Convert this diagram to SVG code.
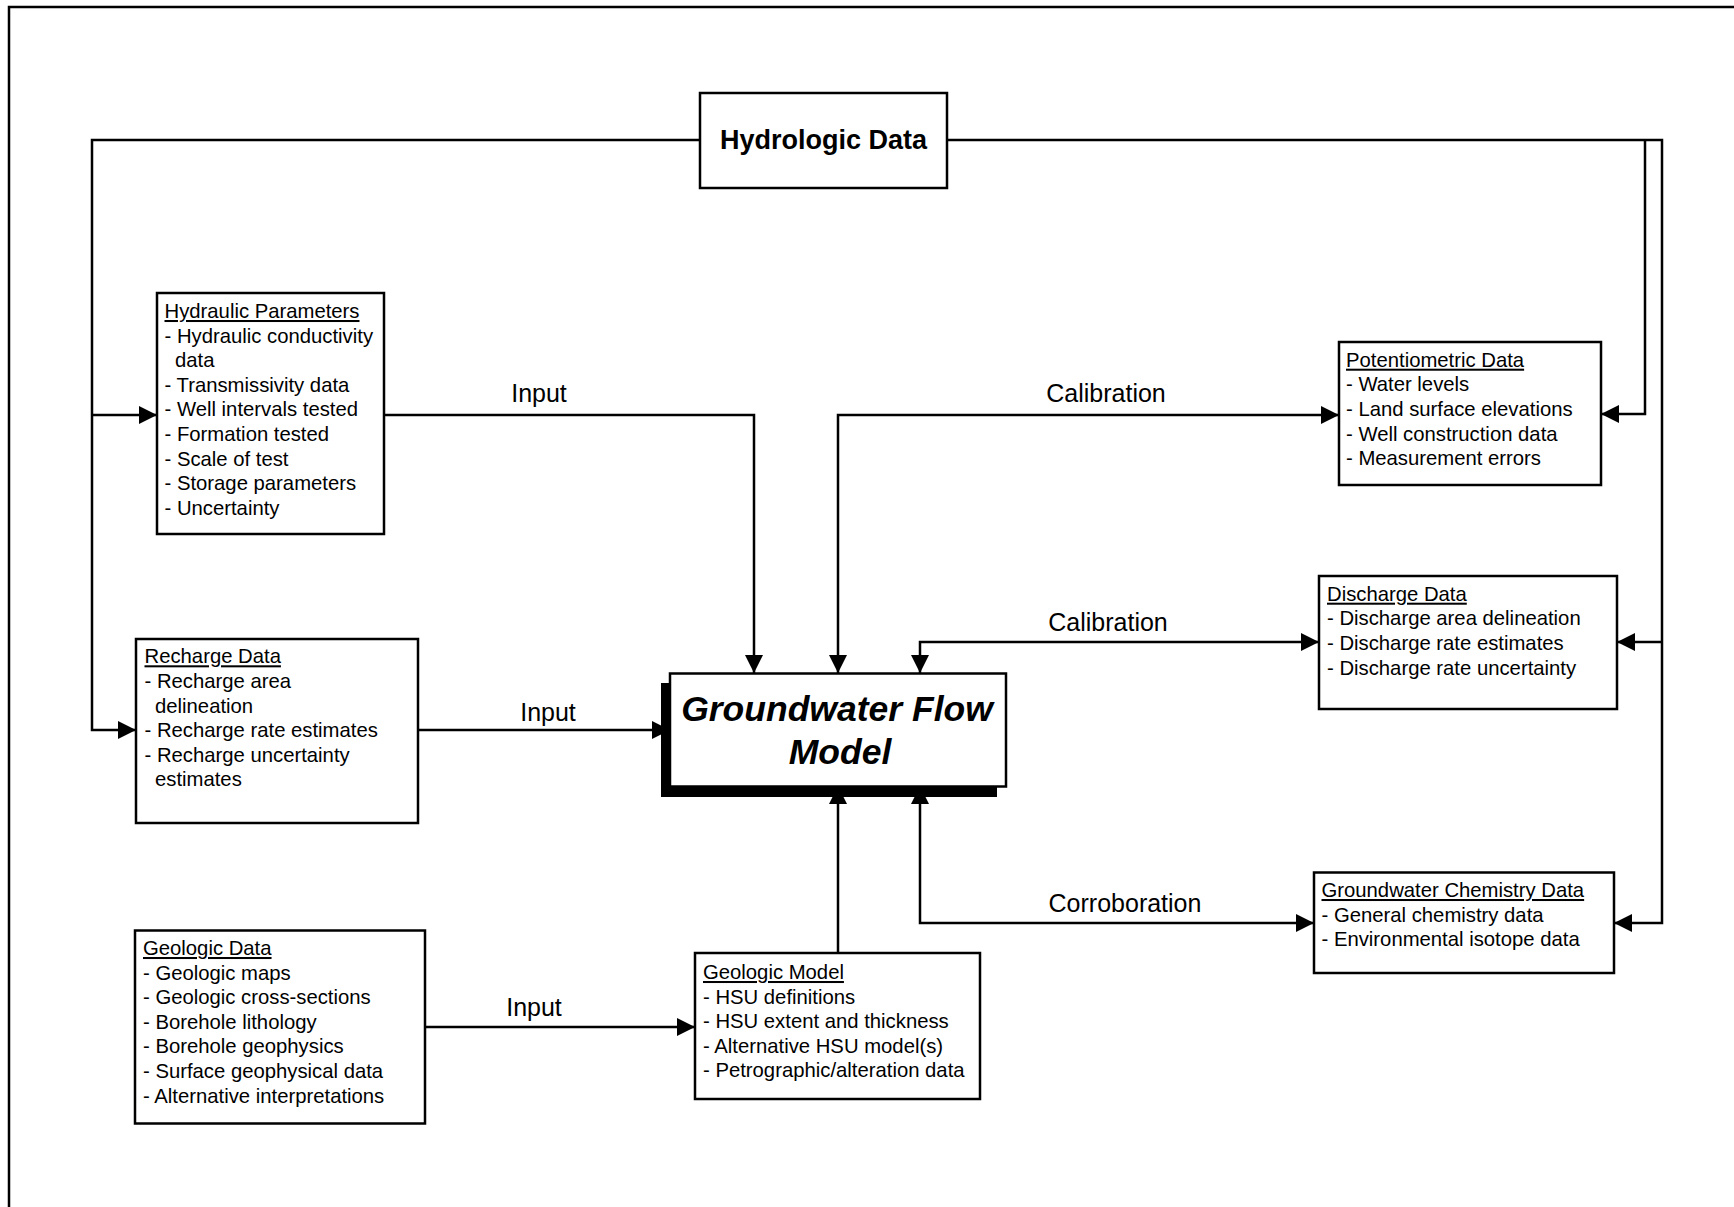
<svg xmlns="http://www.w3.org/2000/svg" width="1734" height="1207" viewBox="0 0 1734 1207">
<style>
  .box { fill: #fff; stroke: #000; stroke-width: 2.5; }
  .ln { fill: none; stroke: #000; stroke-width: 2.5; }
  .t { font-family: "Liberation Sans", Arial, sans-serif; font-size: 20.3px; fill: #000; }
  .u { text-decoration: underline; }
  .lbl { font-family: "Liberation Sans", Arial, sans-serif; font-size: 25px; fill: #000; text-anchor: middle; }
  .big { font-family: "Liberation Sans", Arial, sans-serif; font-weight: bold; fill: #000; text-anchor: middle; }
</style>
<defs>
  <marker id="ah" markerUnits="userSpaceOnUse" markerWidth="18" markerHeight="18" viewBox="0 0 18 18" refX="18" refY="9" orient="auto-start-reverse">
    <path d="M0,0 L18,9 L0,18 Z" fill="#000"/>
  </marker>
</defs>
<rect width="1734" height="1207" fill="#fff"/>
<path d="M9,1215 V7 H1745" fill="none" stroke="#000" stroke-width="2.5"/>

<g id="connectors">
  <path class="ln" d="M700,140 H92 V730 H136" marker-end="url(#ah)"/>
  <path class="ln" d="M92,415 H157" marker-end="url(#ah)"/>
  <path class="ln" d="M947,140 H1662 V923 H1614" marker-end="url(#ah)"/>
  <path class="ln" d="M1662,642 H1617" marker-end="url(#ah)"/>
  <path class="ln" d="M1645,140 V414 H1601" marker-end="url(#ah)"/>
  <path class="ln" d="M384,415 H754 V673" marker-end="url(#ah)"/>
  <path class="ln" d="M838,673 V415 H1339" marker-start="url(#ah)" marker-end="url(#ah)"/>
  <path class="ln" d="M920,673 V642 H1319" marker-start="url(#ah)" marker-end="url(#ah)"/>
  <path class="ln" d="M418,730 H670" marker-end="url(#ah)"/>
  <path class="ln" d="M920,786 V923 H1314" marker-start="url(#ah)" marker-end="url(#ah)"/>
  <path class="ln" d="M838,953 V786" marker-end="url(#ah)"/>
  <path class="ln" d="M425,1027 H695" marker-end="url(#ah)"/>
  <text class="lbl" x="539" y="402">Input</text>
  <text class="lbl" x="1106" y="402">Calibration</text>
  <text class="lbl" x="1108" y="631">Calibration</text>
  <text class="lbl" x="548" y="721">Input</text>
  <text class="lbl" x="1125" y="912">Corroboration</text>
  <text class="lbl" x="534" y="1016">Input</text>
</g>

<g id="hydrologic-data">
  <rect class="box" x="700" y="93" width="247" height="95"/>
  <text class="big" x="823.5" y="149" font-size="27">Hydrologic Data</text>
</g>

<g id="hydraulic-parameters">
  <rect class="box" x="157" y="293" width="227" height="241"/>
  <text class="t u" x="164.5" y="318">Hydraulic Parameters</text>
  <text class="t" x="164.5" y="342.6">- Hydraulic conductivity</text>
  <text class="t" x="175" y="367.2">data</text>
  <text class="t" x="164.5" y="391.8">- Transmissivity data</text>
  <text class="t" x="164.5" y="416.4">- Well intervals tested</text>
  <text class="t" x="164.5" y="441">- Formation tested</text>
  <text class="t" x="164.5" y="465.6">- Scale of test</text>
  <text class="t" x="164.5" y="490.2">- Storage parameters</text>
  <text class="t" x="164.5" y="514.8">- Uncertainty</text>
</g>

<g id="potentiometric-data">
  <rect class="box" x="1339" y="342" width="262" height="143"/>
  <text class="t u" x="1346" y="366.7">Potentiometric Data</text>
  <text class="t" x="1346" y="391.3">- Water levels</text>
  <text class="t" x="1346" y="415.9">- Land surface elevations</text>
  <text class="t" x="1346" y="440.5">- Well construction data</text>
  <text class="t" x="1346" y="465.1">- Measurement errors</text>
</g>

<g id="discharge-data">
  <rect class="box" x="1319" y="576" width="298" height="133"/>
  <text class="t u" x="1327" y="600.7">Discharge Data</text>
  <text class="t" x="1327" y="625.3">- Discharge area delineation</text>
  <text class="t" x="1327" y="649.9">- Discharge rate estimates</text>
  <text class="t" x="1327" y="674.5">- Discharge rate uncertainty</text>
</g>

<g id="recharge-data">
  <rect class="box" x="136" y="639" width="282" height="184"/>
  <text class="t u" x="144.5" y="663.3">Recharge Data</text>
  <text class="t" x="144.5" y="687.9">- Recharge area</text>
  <text class="t" x="155" y="712.5">delineation</text>
  <text class="t" x="144.5" y="737.1">- Recharge rate estimates</text>
  <text class="t" x="144.5" y="761.7">- Recharge uncertainty</text>
  <text class="t" x="155" y="786.3">estimates</text>
</g>

<g id="groundwater-flow-model">
  <rect x="661" y="683" width="336" height="114" fill="#000"/>
  <rect class="box" x="670" y="673.5" width="336" height="113"/>
  <text class="big" x="837" y="721" font-size="35.5" font-style="italic">Groundwater Flow</text>
  <text class="big" x="840" y="764" font-size="35.5" font-style="italic">Model</text>
</g>

<g id="groundwater-chemistry-data">
  <rect class="box" x="1314" y="872.5" width="300" height="100.5"/>
  <text class="t u" x="1321.5" y="897">Groundwater Chemistry Data</text>
  <text class="t" x="1321.5" y="921.6">- General chemistry data</text>
  <text class="t" x="1321.5" y="946.2">- Environmental isotope data</text>
</g>

<g id="geologic-data">
  <rect class="box" x="135" y="930.5" width="290" height="193"/>
  <text class="t u" x="143" y="955">Geologic Data</text>
  <text class="t" x="143" y="979.6">- Geologic maps</text>
  <text class="t" x="143" y="1004.2">- Geologic cross-sections</text>
  <text class="t" x="143" y="1028.8">- Borehole lithology</text>
  <text class="t" x="143" y="1053.4">- Borehole geophysics</text>
  <text class="t" x="143" y="1078">- Surface geophysical data</text>
  <text class="t" x="143" y="1102.6">- Alternative interpretations</text>
</g>

<g id="geologic-model">
  <rect class="box" x="695" y="953" width="285" height="146"/>
  <text class="t u" x="703" y="979">Geologic Model</text>
  <text class="t" x="703" y="1003.6">- HSU definitions</text>
  <text class="t" x="703" y="1028.2">- HSU extent and thickness</text>
  <text class="t" x="703" y="1052.8">- Alternative HSU model(s)</text>
  <text class="t" x="703" y="1077.4">- Petrographic/alteration data</text>
</g>
</svg>
